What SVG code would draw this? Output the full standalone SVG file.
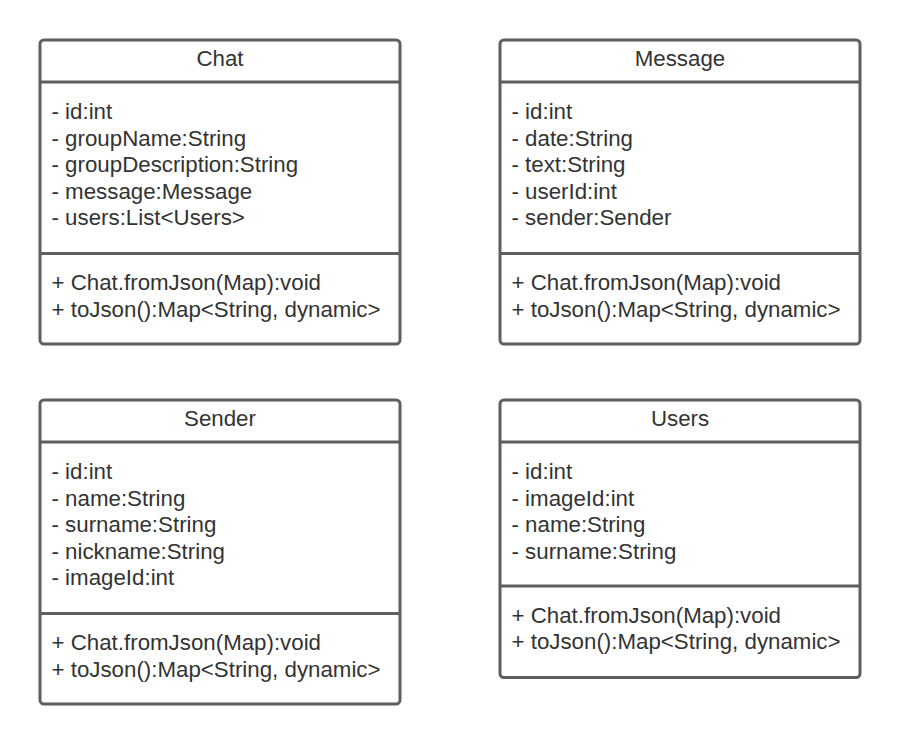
<svg xmlns="http://www.w3.org/2000/svg" width="900" height="744" viewBox="0 0 900 744">
<style>
.box{fill:#ffffff;stroke:#5e5e5e;stroke-width:3}
.div{stroke:#5e5e5e;stroke-width:3}
text{font-family:"Liberation Sans",Arial,sans-serif;font-size:22.3px;fill:#333333}
.t{text-anchor:middle}
</style>
<rect width="900" height="744" fill="#ffffff"/>
<g id="Chat">
<rect class="box" x="40" y="40" width="360" height="304" rx="4"/>
<line class="div" x1="40" y1="82" x2="400" y2="82"/>
<line class="div" x1="40" y1="253.5" x2="400" y2="253.5"/>
<text class="t" x="220" y="66">Chat</text>
<text x="51.5" y="119">- id:int</text>
<text x="51.5" y="145.5">- groupName:String</text>
<text x="51.5" y="172">- groupDescription:String</text>
<text x="51.5" y="198.5">- message:Message</text>
<text x="51.5" y="225">- users:List&lt;Users&gt;</text>
<text x="51.5" y="290">+ Chat.fromJson(Map):void</text>
<text x="51.5" y="316.7">+ toJson():Map&lt;String, dynamic&gt;</text>
</g>
<g id="Message">
<rect class="box" x="500" y="40" width="360" height="304" rx="4"/>
<line class="div" x1="500" y1="82" x2="860" y2="82"/>
<line class="div" x1="500" y1="253.5" x2="860" y2="253.5"/>
<text class="t" x="680" y="66">Message</text>
<text x="511.5" y="119">- id:int</text>
<text x="511.5" y="145.5">- date:String</text>
<text x="511.5" y="172">- text:String</text>
<text x="511.5" y="198.5">- userId:int</text>
<text x="511.5" y="225">- sender:Sender</text>
<text x="511.5" y="290">+ Chat.fromJson(Map):void</text>
<text x="511.5" y="316.7">+ toJson():Map&lt;String, dynamic&gt;</text>
</g>
<g id="Sender">
<rect class="box" x="40" y="400" width="360" height="304" rx="4"/>
<line class="div" x1="40" y1="442" x2="400" y2="442"/>
<line class="div" x1="40" y1="613.5" x2="400" y2="613.5"/>
<text class="t" x="220" y="426">Sender</text>
<text x="51.5" y="479">- id:int</text>
<text x="51.5" y="505.5">- name:String</text>
<text x="51.5" y="532">- surname:String</text>
<text x="51.5" y="558.5">- nickname:String</text>
<text x="51.5" y="585">- imageId:int</text>
<text x="51.5" y="650">+ Chat.fromJson(Map):void</text>
<text x="51.5" y="676.7">+ toJson():Map&lt;String, dynamic&gt;</text>
</g>
<g id="Users">
<rect class="box" x="500" y="400" width="360" height="277.5" rx="4"/>
<line class="div" x1="500" y1="442" x2="860" y2="442"/>
<line class="div" x1="500" y1="586" x2="860" y2="586"/>
<text class="t" x="680" y="426">Users</text>
<text x="511.5" y="479">- id:int</text>
<text x="511.5" y="505.5">- imageId:int</text>
<text x="511.5" y="532">- name:String</text>
<text x="511.5" y="558.5">- surname:String</text>
<text x="511.5" y="622.7">+ Chat.fromJson(Map):void</text>
<text x="511.5" y="649.3">+ toJson():Map&lt;String, dynamic&gt;</text>
</g>
<g id="connectors"></g>
</svg>
